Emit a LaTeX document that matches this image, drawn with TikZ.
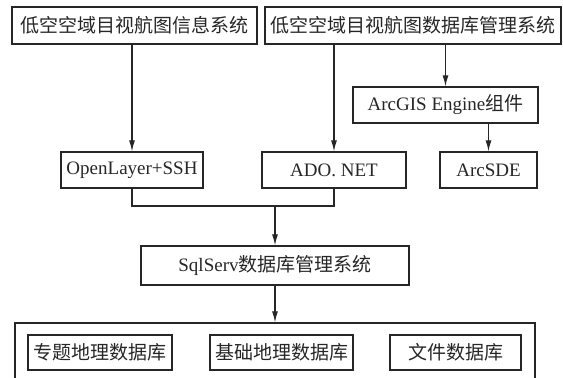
\documentclass[tikz,border=0pt]{standalone}
\usepackage{fontspec}
\setmainfont{Liberation Serif}
\newfontfamily\cjk{Noto Sans CJK SC}
\usetikzlibrary{arrows.meta}
\tikzset{
	box/.style={draw=black!85, line width=0.6pt, inner sep=0pt, text=black!85, font=\fontsize{9.5}{11}\selectfont},
	arr/.style={draw=black!85, line width=0.6pt, -{Latex[length=5.5pt,width=3pt]}},
	link/.style={draw=black!85, line width=0.6pt}
}

\begin{document}
\begin{tikzpicture}[x=0.5pt, y=-0.5pt]
			%%%%% START %%%%%
			
			\path[use as bounding box, clip] (0, 0) rectangle (563, 378);
			
			\node[box, minimum width=122.5pt, minimum height=18.5pt] (tl) at (134.5, 25.5) {\cjk 低空空域目视航图信息系统};
			\node[box, minimum width=148pt, minimum height=18.5pt] (tr) at (413, 25.5) {\cjk 低空空域目视航图数据库管理系统};
			
			\node[box, minimum width=92.5pt, minimum height=18pt] (arcgis) at (445.5, 105) {ArcGIS Engine{\cjk 组件}};
			
			\node[box, minimum width=71pt, minimum height=18pt] (openlayer) at (132, 170) {OpenLayer+SSH};
			\node[box, minimum width=72pt, minimum height=18pt] (ado) at (334, 170) {ADO. NET};
			\node[box, minimum width=48.5pt, minimum height=18pt] (arcsde) at (488.5, 170) {ArcSDE};
			
			\coordinate (jn) at (275, 206);
			
			\node[box, minimum width=134pt, minimum height=19.5pt] (sql) at (275, 265.5) {SqlServ{\cjk 数据库管理系统}};
			
			\node[box, minimum width=260pt, minimum height=40pt] (db) at (275, 363) {};
			\node[box, minimum width=72pt, minimum height=17.5pt] (zt) at (100, 352.5) {\cjk 专题地理数据库};
			\node[box, minimum width=71.5pt, minimum height=17.5pt] (jc) at (281.5, 352.5) {\cjk 基础地理数据库};
			\node[box, minimum width=65.5pt, minimum height=17.5pt] (wj) at (455.5, 352.5) {\cjk 文件数据库};
			
			\draw[arr] (tl.south -| openlayer) -- (openlayer.north);
			\draw[arr] (tr.south -| ado) -- (ado.north);
			\draw[arr] (tr.south -| arcgis) -- (arcgis.north);
			\draw[arr] (arcgis.south -| arcsde) -- (arcsde.north);
			
			\draw[link] (openlayer.south) |- (jn) -| (ado.south);
			\draw[arr] (jn) -- (sql.north);
			\draw[arr] (sql.south) -- (db.north);
			
			%%%%% END %%%%%
\end{tikzpicture}
\end{document}
